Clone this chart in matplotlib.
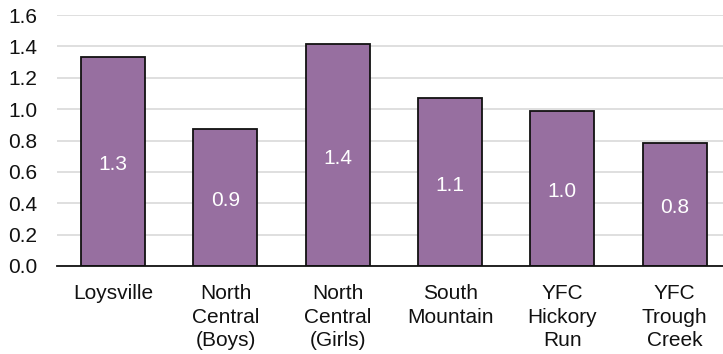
import matplotlib
matplotlib.use("Agg")
import matplotlib.pyplot as plt

# Dane
sites = ["Loysville", "North\nCentral\n(Boys)", "North\nCentral\n(Girls)",
         "South\nMountain", "YFC\nHickory\nRun", "YFC\nTrough\nCreek"]
values = [1.334, 0.875, 1.415, 1.069, 0.988, 0.782]
y_ticks = [0.0, 0.2, 0.4, 0.6, 0.8, 1.0, 1.2, 1.4, 1.6]

plt.rcParams['font.family'] = ['Liberation Sans', 'DejaVu Sans']

fig = plt.figure(figsize=(7.23, 3.54), dpi=100)
ax = fig.add_axes([0.0788, 0.2486, 0.9212, 0.709])

x = list(range(len(sites)))
bars = ax.bar(x, values, width=0.57, color="#976FA0", edgecolor="#111111",
              linewidth=1.3, zorder=3)

for bar, v in zip(bars, values):
    ax.text(bar.get_x() + bar.get_width() / 2, v / 2 - 0.02, f"{v:.1f}",
            ha="center", va="center", color="white", fontsize=15, zorder=4)

ax.set_xlim(-0.5, 5.43)
ax.set_ylim(0, 1.6)
ax.set_yticks(y_ticks)
ax.set_yticklabels([f"{t:.1f}" for t in y_ticks])
ax.set_xticks(x)
ax.set_xticklabels(sites, linespacing=1.3)
ax.tick_params(axis="both", length=0, labelsize=15, colors="#111111")
ax.tick_params(axis="y", pad=14)
ax.tick_params(axis="x", pad=13)

ax.grid(axis="y", color="#D9D9D9", linewidth=1.2, zorder=0)
for side in ["top", "right", "left"]:
    ax.spines[side].set_visible(False)
ax.spines["bottom"].set_color("#111111")
ax.spines["bottom"].set_linewidth(1.3)
ax.spines["bottom"].set_zorder(5)

fig.savefig("out.png", dpi=100)
